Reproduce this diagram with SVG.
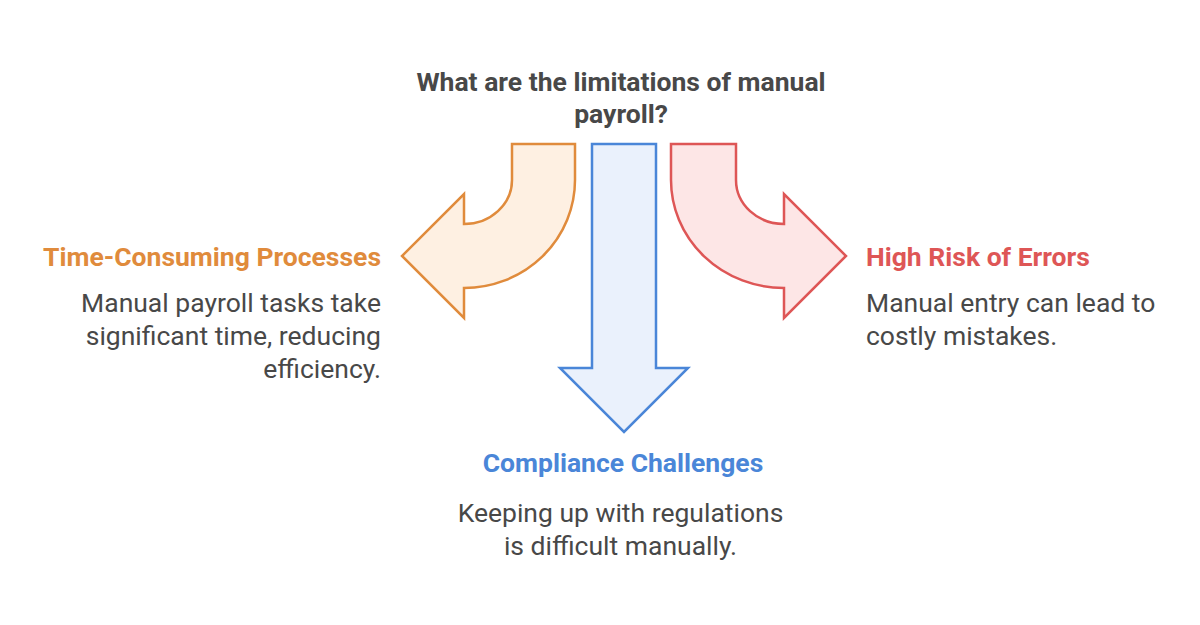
<svg xmlns="http://www.w3.org/2000/svg" width="1200" height="625" viewBox="0 0 1200 625">
<style>
text{font-family:Roboto,"Liberation Sans",sans-serif;}
.title{font-size:26.5px;font-weight:bold;fill:#484848;}
.head{font-size:26.5px;font-weight:bold;}
.body{font-size:26.5px;fill:#484848;}
.arrow{stroke-width:2.5;stroke-linejoin:miter;}
</style>
<rect width="1200" height="625" fill="#ffffff"/>
<g id="title">
<text class="title" x="621" y="91" text-anchor="middle">What are the limitations of manual</text>
<text class="title" x="621" y="123" text-anchor="middle">payroll?</text>
</g>
<g id="connectors">
<path class="arrow" fill="#FEF0E2" stroke="#E08B3C" d="M512,144 L575,144 L575,180 A111,108 0 0 1 464,288 L464,318 L402,256 L464,194 L464,224 A48,44 0 0 0 512,180 Z"/>
<path class="arrow" fill="#EAF1FC" stroke="#4A86D8" d="M592,144 L656,144 L656,368 L688,368 L624,432 L560,368 L592,368 Z"/>
<path class="arrow" fill="#FDE6E6" stroke="#DE5656" d="M736,144 L671,144 L671,180 A113,108 0 0 0 784,288 L784,318 L846,256 L784,194 L784,224 A48,44 0 0 1 736,180 Z"/>
</g>
<g id="node-time">
<text class="head" x="381" y="266" text-anchor="end" fill="#E08B3C">Time-Consuming Processes</text>
<text class="body" x="381" y="312" text-anchor="end">Manual payroll tasks take</text>
<text class="body" x="381" y="345" text-anchor="end">significant time, reducing</text>
<text class="body" x="381" y="378" text-anchor="end">efficiency.</text>
</g>
<g id="node-errors">
<text class="head" x="866" y="266" fill="#DE5656">High Risk of Errors</text>
<text class="body" x="866" y="312">Manual entry can lead to</text>
<text class="body" x="866" y="345">costly mistakes.</text>
</g>
<g id="node-compliance">
<text class="head" x="623" y="472" text-anchor="middle" fill="#4A86D8">Compliance Challenges</text>
<text class="body" x="620.5" y="522" text-anchor="middle">Keeping up with regulations</text>
<text class="body" x="620.5" y="555" text-anchor="middle">is difficult manually.</text>
</g>
</svg>
